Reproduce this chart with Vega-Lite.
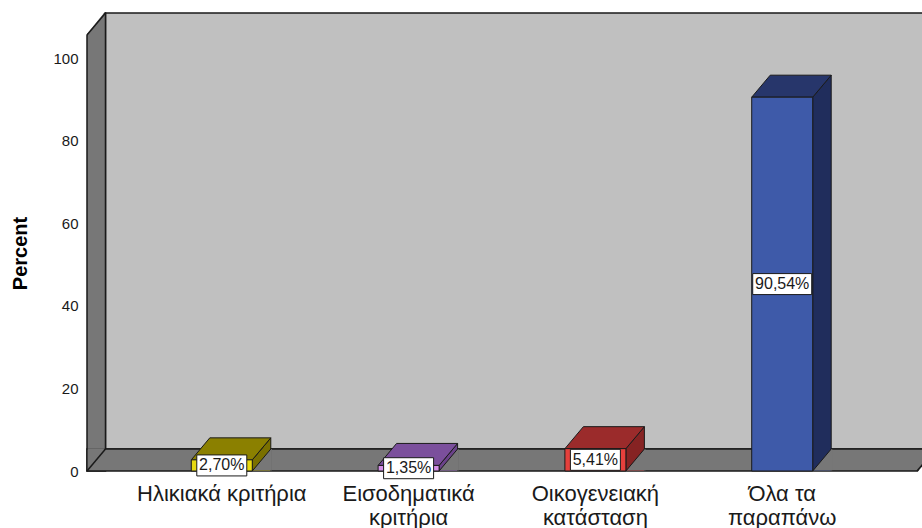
{
  "$schema": "https://vega.github.io/schema/vega-lite/v6.json",
  "width": 830,
  "height": 436,
  "autosize": {"type": "none"},
  "padding": {"left": 87, "top": 35, "right": 5, "bottom": 57},
  "background": "white",
  "config": {"view": {"stroke": null}, "font": "Liberation Sans", "axis": {"grid": false}},
  "datasets": {
    "bars": [
      {"cat": "Ηλικιακά κριτήρια", "pct": 2.70, "label": "2,70%"},
      {"cat": "Εισοδηματικά κριτήρια", "pct": 1.35, "label": "1,35%"},
      {"cat": "Οικογενειακή κατάσταση", "pct": 5.41, "label": "5,41%"},
      {"cat": "Όλα τα παραπάνω", "pct": 90.54, "label": "90,54%"}
    ],
    "frame": [{"part": "frame"}]
  },
  "layer": [
    {
      "data": {"name": "frame"},
      "layer": [
        {
          "mark": {"type": "rect", "fill": "#c0c0c0", "stroke": "#1a1a1a", "strokeWidth": 1.5, "xOffset": 18.5, "x2Offset": 18.5, "yOffset": -22, "y2Offset": -22},
          "encoding": {
            "x": {"datum": 0, "type": "quantitative", "scale": {"domain": [0, 1], "nice": false, "zero": false}, "axis": null},
            "x2": {"datum": 1},
            "y": {"datum": 0, "type": "quantitative", "scale": {"domain": [0, 105.6], "nice": false}, "axis": null},
            "y2": {"datum": 105.6}
          }
        },
        {
          "mark": {"type": "rect", "fill": "#777777", "stroke": "#1a1a1a", "strokeWidth": 1.5, "x2Offset": 18.5, "y2Offset": -22},
          "encoding": {
            "x": {"datum": 0, "type": "quantitative", "scale": {"domain": [0, 1], "nice": false, "zero": false}, "axis": null},
            "x2": {"datum": 0},
            "y": {"datum": 0, "type": "quantitative", "scale": {"domain": [0, 105.6], "nice": false}, "axis": null},
            "y2": {"datum": 105.6}
          }
        },
        {
          "mark": {"type": "rect", "fill": "#777777", "stroke": "#1a1a1a", "strokeWidth": 1.5, "x2Offset": 18.5, "y2Offset": -22},
          "encoding": {
            "x": {"datum": 0, "type": "quantitative", "scale": {"domain": [0, 1], "nice": false, "zero": false}, "axis": null},
            "x2": {"datum": 1},
            "y": {"datum": 0, "type": "quantitative", "scale": {"domain": [0, 105.6], "nice": false}, "axis": null},
            "y2": {"datum": 0}
          }
        },
        {
          "mark": {"type": "point", "shape": "M0.8,-22.8 L18,-22.8 L0.8,-0.8 Z", "size": 4, "filled": true, "fill": "#777777", "strokeWidth": 0, "opacity": 1},
          "encoding": {
            "x": {"datum": 0, "type": "quantitative", "scale": {"domain": [0, 1], "nice": false, "zero": false}, "axis": null},
            "y": {"datum": 0, "type": "quantitative", "scale": {"domain": [0, 105.6], "nice": false}, "axis": null}
          }
        },
        {
          "mark": {"type": "point", "shape": "M0,0 L18.5,-22", "size": 4, "filled": false, "stroke": "#1a1a1a", "strokeWidth": 1.5, "opacity": 1},
          "encoding": {
            "x": {"datum": 0, "type": "quantitative", "scale": {"domain": [0, 1], "nice": false, "zero": false}, "axis": null},
            "y": {"datum": 0, "type": "quantitative", "scale": {"domain": [0, 105.6], "nice": false}, "axis": null}
          }
        },
        {
          "mark": {"type": "point", "shape": "M-1,0.2 L-1,-23 L17.8,-23 Z", "size": 4, "filled": true, "fill": "white", "strokeWidth": 0, "opacity": 1},
          "encoding": {
            "x": {"datum": 0, "type": "quantitative", "scale": {"domain": [0, 1], "nice": false, "zero": false}, "axis": null},
            "y": {"datum": 105.6, "type": "quantitative", "scale": {"domain": [0, 105.6], "nice": false}, "axis": null}
          }
        },
        {
          "mark": {"type": "point", "shape": "M0,0 L18.5,-22", "size": 4, "filled": false, "stroke": "#1a1a1a", "strokeWidth": 1.5, "opacity": 1},
          "encoding": {
            "x": {"datum": 0, "type": "quantitative", "scale": {"domain": [0, 1], "nice": false, "zero": false}, "axis": null},
            "y": {"datum": 105.6, "type": "quantitative", "scale": {"domain": [0, 105.6], "nice": false}, "axis": null}
          }
        },
        {
          "mark": {"type": "point", "shape": "M0.6,1 L19,-21.2 L25,-21.2 L25,1 Z", "size": 4, "filled": true, "fill": "white", "strokeWidth": 0, "opacity": 1},
          "encoding": {
            "x": {"datum": 1, "type": "quantitative", "scale": {"domain": [0, 1], "nice": false, "zero": false}, "axis": null},
            "y": {"datum": 0, "type": "quantitative", "scale": {"domain": [0, 105.6], "nice": false}, "axis": null}
          }
        },
        {
          "mark": {"type": "point", "shape": "M0,0 L18.5,-22", "size": 4, "filled": false, "stroke": "#1a1a1a", "strokeWidth": 1.5, "opacity": 1},
          "encoding": {
            "x": {"datum": 1, "type": "quantitative", "scale": {"domain": [0, 1], "nice": false, "zero": false}, "axis": null},
            "y": {"datum": 0, "type": "quantitative", "scale": {"domain": [0, 105.6], "nice": false}, "axis": null}
          }
        }
      ]
    },
    {
      "data": {"name": "bars"},
      "encoding": {
        "x": {
          "field": "cat", "type": "nominal", "sort": null,
          "scale": {"type": "band", "domain": ["Ηλικιακά κριτήρια", "Εισοδηματικά κριτήρια", "Οικογενειακή κατάσταση", "Όλα τα παραπάνω"], "paddingInner": 0, "paddingOuter": 0.2216},
          "axis": {
            "title": null, "domain": false, "ticks": false, "labelAngle": 0,
            "labelFont": "Liberation Sans", "labelFontSize": 22, "labelColor": "#1a1a1a",
            "labelPadding": 12, "labelLineHeight": 24, "labelLimit": 0, "labelOverlap": false, "labelBound": false,
            "labelExpr": "datum.value == 'Εισοδηματικά κριτήρια' ? ['Εισοδηματικά', 'κριτήρια'] : datum.value == 'Οικογενειακή κατάσταση' ? ['Οικογενειακή', 'κατάσταση'] : datum.value == 'Όλα τα παραπάνω' ? ['Όλα τα', 'παραπάνω'] : datum.value"
          }
        },
        "y": {
          "field": "pct", "type": "quantitative",
          "scale": {"domain": [0, 105.6], "nice": false},
          "axis": {
            "title": "Percent", "titleFont": "Liberation Sans", "titleFontSize": 20, "titleFontWeight": "bold", "titleColor": "#000000", "titlePadding": 22,
            "domain": false, "ticks": false, "values": [0, 20, 40, 60, 80, 100],
            "labelFont": "Liberation Sans", "labelFontSize": 15, "labelColor": "#1a1a1a", "labelPadding": 9
          }
        }
      },
      "layer": [
        {
          "mark": {"type": "point", "shape": "M30.5,0 L49,-22 L49,1000 L30.5,1000 Z", "size": 4, "filled": true, "stroke": "#1a1a1a", "strokeWidth": 1, "opacity": 1, "clip": true},
          "encoding": {"fill": {"field": "cat", "type": "nominal", "scale": {"domain": ["Ηλικιακά κριτήρια", "Εισοδηματικά κριτήρια", "Οικογενειακή κατάσταση", "Όλα τα παραπάνω"], "range": ["#7a7000", "#6b428a", "#862323", "#202d5c"]}, "legend": null}}
        },
        {
          "mark": {"type": "point", "shape": "M-30.5,0 L30.5,0 L49,-22 L-12,-22 Z", "size": 4, "filled": true, "stroke": "#1a1a1a", "strokeWidth": 1, "opacity": 1},
          "encoding": {"fill": {"field": "cat", "type": "nominal", "scale": {"domain": ["Ηλικιακά κριτήρια", "Εισοδηματικά κριτήρια", "Οικογενειακή κατάσταση", "Όλα τα παραπάνω"], "range": ["#8b8000", "#7b4f9c", "#9b2b2b", "#27366b"]}, "legend": null}}
        },
        {
          "mark": {"type": "bar", "width": 61, "stroke": "#1a1a1a", "strokeWidth": 1, "opacity": 1},
          "encoding": {"fill": {"field": "cat", "type": "nominal", "scale": {"domain": ["Ηλικιακά κριτήρια", "Εισοδηματικά κριτήρια", "Οικογενειακή κατάσταση", "Όλα τα παραπάνω"], "range": ["#e8d911", "#d48fe8", "#e6403c", "#3e5aa9"]}, "legend": null}}
        },
        {
          "mark": {"type": "point", "shape": "M31,-0.6 L49,-22 L50,-22 L50,-0.6 Z", "size": 4, "filled": true, "fill": "#777777", "strokeWidth": 0, "opacity": 1},
          "encoding": {"y": {"datum": 0, "type": "quantitative", "scale": {"domain": [0, 105.6], "nice": false}}}
        },
        {
          "mark": {"type": "point", "shape": "M30.5,0 L49,-22", "size": 4, "filled": false, "stroke": "#1a1a1a", "strokeWidth": 1, "opacity": 1},
          "encoding": {"y": {"datum": 0, "type": "quantitative", "scale": {"domain": [0, 105.6], "nice": false}}}
        }
      ],
      "resolve": {"scale": {"fill": "independent"}}
    },
    {
      "data": {"name": "bars"},
      "encoding": {
        "x": {
          "field": "cat", "type": "nominal", "sort": null,
          "scale": {"type": "band", "domain": ["Ηλικιακά κριτήρια", "Εισοδηματικά κριτήρια", "Οικογενειακή κατάσταση", "Όλα τα παραπάνω"], "paddingInner": 0, "paddingOuter": 0.2216},
          "axis": null
        },
        "y": {"field": "pct", "type": "quantitative", "scale": {"domain": [0, 211.2], "nice": false}, "axis": null}
      },
      "layer": [
        {
          "mark": {"type": "point", "size": 4, "filled": true, "fill": "white", "stroke": "#1a1a1a", "strokeWidth": 1, "opacity": 1},
          "encoding": {"shape": {"field": "cat", "type": "nominal", "scale": {"domain": ["Ηλικιακά κριτήρια", "Εισοδηματικά κριτήρια", "Οικογενειακή κατάσταση", "Όλα τα παραπάνω"], "range": ["M-25,-10.5 L25,-10.5 L25,10.5 L-25,10.5 Z", "M-25,-10.5 L25,-10.5 L25,10.5 L-25,10.5 Z", "M-25,-10.5 L25,-10.5 L25,10.5 L-25,10.5 Z", "M-29.5,-10.5 L29.5,-10.5 L29.5,10.5 L-29.5,10.5 Z"]}, "legend": null}}
        },
        {
          "mark": {"type": "text", "font": "Liberation Sans", "fontSize": 16, "fill": "#1a1a1a", "baseline": "middle", "align": "center"},
          "encoding": {"text": {"field": "label"}}
        }
      ]
    }
  ],
  "resolve": {"scale": {"x": "independent", "y": "independent", "shape": "independent"}}
}
